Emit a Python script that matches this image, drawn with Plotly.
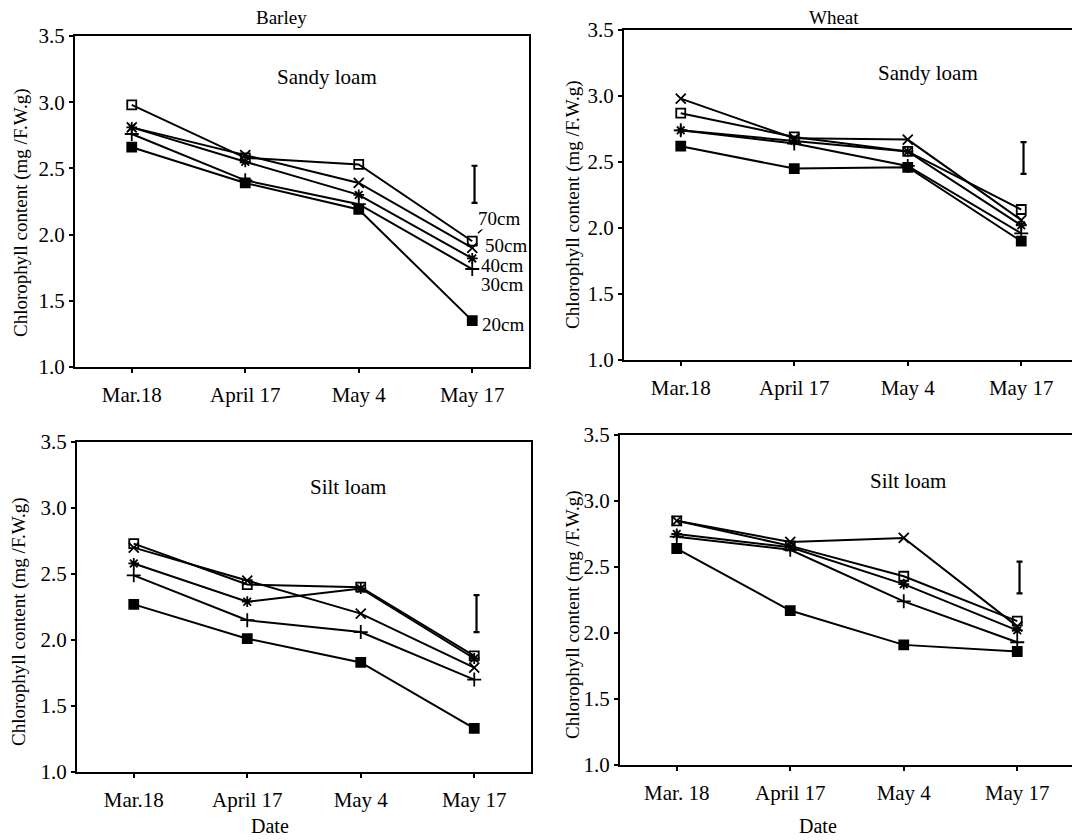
import plotly.graph_objects as go

dates = ["Mar.18", "April 17", "May 4", "May 17"]
dates_br = ["Mar. 18", "April 17", "May 4", "May 17"]
depths = ["70cm", "50cm", "40cm", "30cm", "20cm"]

# Barley, sandy loam
barley_sandy_70 = [2.98, 2.58, 2.53, 1.95]
barley_sandy_50 = [2.81, 2.60, 2.39, 1.90]
barley_sandy_40 = [2.81, 2.55, 2.30, 1.82]
barley_sandy_30 = [2.76, 2.41, 2.23, 1.74]
barley_sandy_20 = [2.66, 2.39, 2.19, 1.35]

# Wheat, sandy loam
wheat_sandy_70 = [2.87, 2.69, 2.58, 2.14]
wheat_sandy_50 = [2.98, 2.68, 2.67, 2.06]
wheat_sandy_40 = [2.74, 2.66, 2.58, 2.02]
wheat_sandy_30 = [2.74, 2.64, 2.47, 1.96]
wheat_sandy_20 = [2.62, 2.45, 2.46, 1.90]

# Barley, silt loam
barley_silt_70 = [2.73, 2.42, 2.40, 1.88]
barley_silt_50 = [2.70, 2.45, 2.20, 1.79]
barley_silt_40 = [2.58, 2.29, 2.39, 1.86]
barley_silt_30 = [2.49, 2.15, 2.06, 1.70]
barley_silt_20 = [2.27, 2.01, 1.83, 1.33]

# Wheat, silt loam
wheat_silt_70 = [2.85, 2.66, 2.43, 2.09]
wheat_silt_50 = [2.85, 2.69, 2.72, 2.05]
wheat_silt_40 = [2.75, 2.65, 2.37, 2.02]
wheat_silt_30 = [2.73, 2.63, 2.24, 1.93]
wheat_silt_20 = [2.64, 2.17, 1.91, 1.86]

# LSD bars (center, half-length) per panel
lsd_center = [2.38, 2.53, 2.20, 2.42]
lsd_half = [0.14, 0.12, 0.14, 0.12]

yticks = [1.0, 1.5, 2.0, 2.5, 3.0, 3.5]

FONT = "Liberation Serif"
OFF = 8  # page body margin
W, H = 1080 - OFF, 840 - OFF


def px(p):
    return (p - OFF) / W


def py(p):
    return 1 - (p - OFF) / H


# panel pixel boxes in page coords: (left, right, top, bottom)
boxes = [(75, 529, 36, 367), (624, 1078, 30, 360), (77, 531, 442, 772), (620, 1074, 435, 765)]

panels = [
    [barley_sandy_70, barley_sandy_50, barley_sandy_40, barley_sandy_30, barley_sandy_20],
    [wheat_sandy_70, wheat_sandy_50, wheat_sandy_40, wheat_sandy_30, wheat_sandy_20],
    [barley_silt_70, barley_silt_50, barley_silt_40, barley_silt_30, barley_silt_20],
    [wheat_silt_70, wheat_silt_50, wheat_silt_40, wheat_silt_30, wheat_silt_20],
]
tick_texts = [dates, dates, dates, dates_br]

symbols = ["square-open", "x-thin-open", "asterisk-open", "cross-thin-open", "square"]
msizes = [9, 10, 9, 10, 9]

fig = go.Figure()
layout = dict(
    template=None,
    width=W, height=H, margin=dict(l=0, r=0, t=0, b=0, pad=0, autoexpand=False),
    paper_bgcolor="white", plot_bgcolor="white", showlegend=False,
    font=dict(family=FONT, color="black", size=20),
)

xpos = [0, 1, 2, 3]
for i, (box, series) in enumerate(zip(boxes, panels)):
    l, r, t, b = box
    xa = "xaxis" if i == 0 else f"xaxis{i+1}"
    ya = "yaxis" if i == 0 else f"yaxis{i+1}"
    xref = "x" if i == 0 else f"x{i+1}"
    yref = "y" if i == 0 else f"y{i+1}"
    layout[xa] = dict(
        domain=[px(l), min(px(r), 1.0)], range=[-0.5, 3.5], anchor=yref, automargin=False,
        tickvals=xpos, ticktext=tick_texts[i], ticks="outside", ticklen=4,
        tickwidth=1.5, tickcolor="black", showline=True, linecolor="black",
        linewidth=2, mirror=True, showgrid=False, zeroline=False,
        ticklabelstandoff=4,
        tickfont=dict(family=FONT, size=21, color="black"),
    )
    layout[ya] = dict(
        domain=[py(b), py(t)], range=[1.0, 3.5], anchor=xref, automargin=False,
        tickvals=yticks, ticktext=[f"{v:.1f}" for v in yticks],
        ticks="outside", ticklen=4, tickwidth=1.5, tickcolor="black",
        showline=True, linecolor="black", linewidth=2, mirror=True,
        showgrid=False, zeroline=False,
        tickfont=dict(family=FONT, size=21, color="black"),
    )
    for k, ys in enumerate(series):
        fig.add_trace(go.Scatter(
            x=xpos, y=ys, mode="lines+markers", xaxis=xref, yaxis=yref,
            name=depths[k],
            line=dict(color="black", width=2),
            marker=dict(symbol=symbols[k], size=msizes[k], color="black",
                        line=dict(color="black", width=1.8)),
        ))
    # LSD bar
    fig.add_trace(go.Scatter(
        x=[3.02], y=[lsd_center[i]], mode="markers", xaxis=xref, yaxis=yref,
        marker=dict(size=1, color="black"),
        error_y=dict(type="data", array=[lsd_half[i]], color="black",
                     thickness=2.2, width=3),
    ))

annotations = []


def pa(text, xp, yp, size, angle=0):
    return dict(text=text, x=px(xp), y=py(yp), xref="paper", yref="paper",
                xanchor="center", yanchor="middle", showarrow=False,
                textangle=angle, font=dict(size=size))


annotations.append(pa("Barley", 281, 18, 19))
annotations.append(pa("Wheat", 834, 18, 19))
annotations.append(pa("Date", 270, 826, 20))
annotations.append(pa("Date", 818, 826, 20))
ytitle = "Chlorophyll content (mg /F.W.g)"
for (xp, yp) in [(21, 213), (573, 205), (19, 622), (573, 615)]:
    annotations.append(pa(ytitle, xp, yp, 19, -90))
for (txt, xp, yp) in [("Sandy loam", 327, 77), ("Sandy loam", 928, 73),
                      ("Silt loam", 348, 487), ("Silt loam", 908, 481)]:
    annotations.append(pa(txt, xp, yp, 21))

# depth labels in Barley sandy loam panel
label_pos = [(3.04, 2.125), (3.10, 1.92), (3.07, 1.765), (3.07, 1.625), (3.08, 1.32)]
for name, (lx, ly) in zip(depths, label_pos):
    annotations.append(dict(text=name, x=lx, y=ly, xref="x", yref="y", xanchor="left",
                            yanchor="middle", showarrow=False, font=dict(size=19),
                            bgcolor="white", borderpad=0))
layout["annotations"] = annotations
layout["shapes"] = [dict(type="line", xref="x", yref="y", x0=3.05, y0=2.01, x1=3.10, y1=2.05,
                         line=dict(color="black", width=1.5))]

fig.update_layout(**layout)
fig.write_html("out.html")
